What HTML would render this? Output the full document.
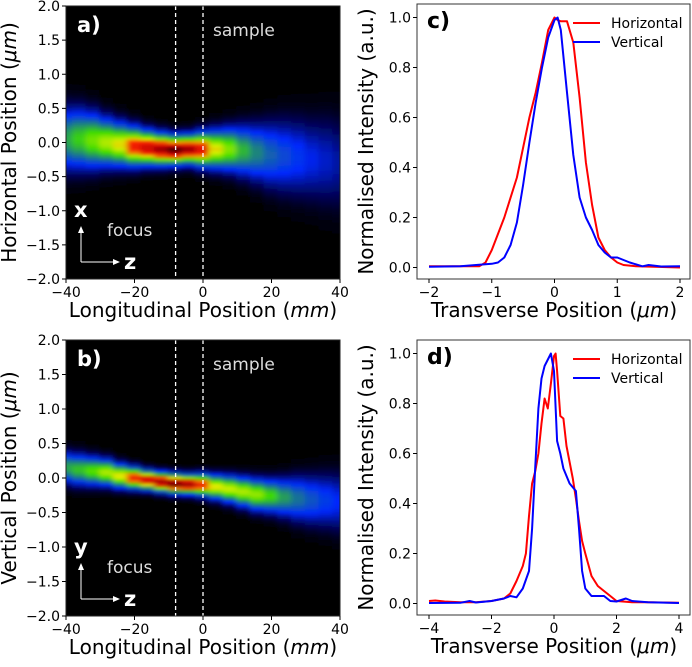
<!DOCTYPE html>
<html><head><meta charset="utf-8"><style>
body{margin:0;background:#fff;width:692px;height:662px;overflow:hidden}
svg text{font-family:"DejaVu Sans","Liberation Sans",sans-serif}
</style></head><body>
<svg id="fig" width="692" height="662" viewBox="0 0 692 662" xmlns="http://www.w3.org/2000/svg">
<defs><filter id="bl" x="-5%" y="-5%" width="110%" height="110%"><feGaussianBlur stdDeviation="3 1"/></filter>
<clipPath id="ca"><rect x="66" y="6" width="274" height="273"/></clipPath>
<clipPath id="cb"><rect x="66" y="340" width="274" height="276"/></clipPath></defs>
</svg>
<script>
// ---- heatmap data (beam profile per z position) ----
const zPos=[-40,-36,-32,-28,-24,-20,-16,-12,-8,-4,0,4,8,12,16,20,24,28,32,36,40];
const aCenter=[0.05,0.05,0.03,0,-0.03,-0.06,-0.08,-0.1,-0.11,-0.1,-0.1,-0.1,-0.1,-0.12,-0.15,-0.18,-0.2,-0.22,-0.25,-0.27,-0.3];
const aSigma=[0.26,0.25,0.23,0.2,0.18,0.16,0.14,0.13,0.12,0.12,0.14,0.16,0.18,0.21,0.24,0.28,0.31,0.33,0.35,0.38,0.4];
const aPeak=[0.33,0.4,0.48,0.55,0.62,0.8,0.9,0.95,1.0,0.95,0.85,0.62,0.5,0.36,0.28,0.22,0.18,0.15,0.12,0.1,0.08];
const bCenter=[0.15,0.12,0.1,0.08,0.03,0,-0.03,-0.06,-0.08,-0.09,-0.1,-0.13,-0.16,-0.2,-0.24,-0.26,-0.28,-0.3,-0.32,-0.33,-0.35];
const bSigma=[0.13,0.13,0.12,0.11,0.1,0.09,0.08,0.08,0.08,0.08,0.09,0.1,0.11,0.12,0.13,0.14,0.16,0.19,0.21,0.23,0.25];
const bPeak=[0.33,0.38,0.45,0.55,0.62,0.8,0.9,0.95,1.0,0.95,0.8,0.62,0.58,0.55,0.52,0.42,0.32,0.25,0.2,0.16,0.13];
const zTicks=[-40,-20,0,20,40];
const posTicks=[2.0,1.5,1.0,0.5,0.0,-0.5,-1.0,-1.5,-2.0];
// ---- line profile data ----
const cHx=[-2,-1.5,-1.2,-1.1,-1.0,-0.8,-0.6,-0.4,-0.3,-0.2,-0.1,0,0.05,0.1,0.2,0.3,0.4,0.5,0.6,0.7,0.8,0.9,1.0,1.1,1.3,2];
const cHy=[0.005,0.005,0.005,0.02,0.07,0.2,0.36,0.6,0.7,0.82,0.95,1.0,0.99,0.985,0.985,0.9,0.68,0.42,0.25,0.12,0.07,0.04,0.02,0.01,0.005,0];
const cVx=[-2,-1.5,-1.0,-0.9,-0.8,-0.7,-0.6,-0.5,-0.4,-0.3,-0.2,-0.1,0,0.05,0.1,0.2,0.3,0.4,0.5,0.6,0.7,0.8,0.9,1.0,1.2,1.4,1.5,1.7,2];
const cVy=[0.003,0.005,0.015,0.02,0.04,0.09,0.18,0.33,0.5,0.66,0.8,0.92,0.99,1.0,0.95,0.7,0.45,0.28,0.2,0.15,0.09,0.06,0.04,0.04,0.02,0.005,0.01,0.004,0.005];
const dHx=[-4,-3.8,-3.5,-3,-2.5,-2,-1.6,-1.4,-1.2,-1.0,-0.9,-0.8,-0.7,-0.6,-0.5,-0.4,-0.3,-0.2,-0.1,0,0.05,0.1,0.2,0.3,0.4,0.6,0.7,0.8,0.9,1.0,1.2,1.4,1.6,1.8,2.0,2.5,3,4];
const dHy=[0.01,0.012,0.008,0.005,0.005,0.01,0.02,0.04,0.09,0.15,0.2,0.35,0.48,0.53,0.6,0.72,0.82,0.78,0.88,0.99,1.0,0.93,0.75,0.74,0.63,0.5,0.42,0.33,0.25,0.2,0.11,0.07,0.05,0.03,0.01,0.005,0.005,0.003];
const dVx=[-4,-3,-2.7,-2.5,-2,-1.6,-1.4,-1.2,-1.0,-0.8,-0.7,-0.6,-0.5,-0.4,-0.3,-0.1,0,0.1,0.2,0.3,0.5,0.7,0.8,0.9,1.0,1.2,1.4,1.6,1.8,2,2.3,2.5,3,4];
const dVy=[0.002,0.003,0.01,0.004,0.01,0.02,0.03,0.025,0.06,0.13,0.3,0.55,0.78,0.9,0.95,1.0,0.93,0.65,0.6,0.54,0.48,0.45,0.3,0.13,0.06,0.03,0.03,0.03,0.01,0.008,0.02,0.01,0.005,0.002];
const cTicks=[-2,-1,0,1,2], dTicks=[-4,-2,0,2,4], iTicks=[0.0,0.2,0.4,0.6,0.8,1.0];

const NS='http://www.w3.org/2000/svg', svg=document.getElementById('fig'), defs=svg.querySelector('defs');
function mk(tag,attrs,parent){const e=document.createElementNS(NS,tag);for(const k in attrs)e.setAttribute(k,attrs[k]);(parent||svg).appendChild(e);return e;}
function txt(s,attrs,parent){const e=mk('text',attrs,parent);e.textContent=s;return e;}
function jet(v){v=Math.max(0,Math.min(1,v));
 const st=[[0,0,0,0],[0.03,0,0,70],[0.13,0,40,255],[0.42,60,220,0],[0.6,220,240,0],[0.74,255,40,0],[0.92,200,0,0],[1,50,0,0]];
 for(let i=1;i<st.length;i++){if(v<=st[i][0]){const a=st[i-1],b=st[i],t=(v-a[0])/(b[0]-a[0]);return `rgb(${Math.round(a[1]+t*(b[1]-a[1]))},${Math.round(a[2]+t*(b[2]-a[2]))},${Math.round(a[3]+t*(b[3]-a[3]))})`;}}return 'rgb(50,0,0)';}

function heat(id,top,bot,cen,sig,pk,clip,letter,axisLetter,ylabel){
 const L=66,R=340;const X=z=>L+(z+40)/80*(R-L);const Y=p=>top+(2-p)/4*(bot-top);
 mk('rect',{x:L,y:top,width:R-L,height:bot-top,fill:'#000'});
 const g=mk('g',{'clip-path':`url(#${clip})`,filter:'url(#bl)'});
 
 
 const dz=zPos[1]-zPos[0];
 zPos.forEach((z,i)=>{
  const gid=id+'g'+i;const lg=mk('linearGradient',{id:gid,gradientUnits:'userSpaceOnUse'},defs);
  lg.setAttribute('x1',0);lg.setAttribute('x2',0);lg.setAttribute('y1',Y(2));lg.setAttribute('y2',Y(-2));
  for(let k=0;k<=80;k++){const p=2-k*0.05;const d=(p-cen[i])/sig[i];mk('stop',{offset:k/80,'stop-color':jet(pk[i]*Math.exp(-d*d/2))},lg);}
  const r=mk('rect',{x:X(z-dz/2)-1,y:top,width:X(z+dz/2)-X(z-dz/2)+2,height:bot-top,fill:`url(#${gid})`},g);
  
  
 });
 [-8,0].forEach(z=>{const l=mk('line',{x1:X(z),x2:X(z),y1:top,y2:bot,stroke:'#fff','stroke-width':1.3,'stroke-dasharray':'4,3'});
  });
 mk('rect',{x:L,y:top,width:R-L,height:bot-top,fill:'none',stroke:'#222','stroke-width':1});
 zTicks.forEach(z=>{mk('line',{x1:X(z),x2:X(z),y1:bot,y2:bot+4,stroke:'#000'});
  const t=txt(z<0?'\u2212'+(-z):String(z),{x:X(z),y:bot+18,'font-size':14,'text-anchor':'middle',fill:'#000'});
  });
 posTicks.forEach(p=>{mk('line',{x1:L-4,x2:L,y1:Y(p),y2:Y(p),stroke:'#000'});
  const s=(p<0?'\u2212':'')+Math.abs(p).toFixed(1);
  const t=txt(s,{x:L-6,y:Y(p)+5,'font-size':14,'text-anchor':'end',fill:'#000'});
  });
 const xl=txt('',{x:(L+R)/2,y:bot+38,'font-size':20,'text-anchor':'middle',fill:'#000'});xl.innerHTML='Longitudinal Position (<tspan font-style="italic">mm</tspan>)';
 
 const yl=txt('',{x:0,y:0,'font-size':20,'text-anchor':'middle',fill:'#000',transform:`translate(16,${(top+bot)/2}) rotate(-90)`});
 yl.innerHTML=ylabel+' Position (<tspan font-style="italic">\u03bcm</tspan>)';
 
 const pl=txt(letter,{x:77,y:top+26,'font-size':21,'font-weight':'bold',fill:'#fff'});
 const sm=txt('sample',{x:213,y:top+30,'font-size':17,fill:'#ddd'});
 const ax=txt(axisLetter,{x:74,y:bot-62,'font-size':21,'font-weight':'bold',fill:'#fff'});
 const fc=txt('focus',{x:107,y:bot-43,'font-size':17,fill:'#ddd'});
 const by=bot-17;
 mk('path',{d:`M81 ${by} V${by-32} M81 ${by} H115`,stroke:'#fff','stroke-width':1,fill:'none'});
 mk('path',{d:`M78 ${by-29} L81 ${by-36} L84 ${by-29} Z M113 ${by-3} L120 ${by} L113 ${by+3} Z`,fill:'#fff'});
 const zz=txt('z',{x:124,y:by+7,'font-size':21,'font-weight':'bold',fill:'#fff'});
}
heat('panel-a',6,279,aCenter,aSigma,aPeak,'ca','a)','x','Horizontal');
heat('panel-b',340,616,bCenter,bSigma,bPeak,'cb','b)','y','Vertical');

function lineplot(id,top,bot,x0,x1,xmin,xmax,ticks,hx,hy,vx,vy,letter){
 const L=417,R=691;const X=v=>x0+(v-xmin)/(xmax-xmin)*(x1-x0);const Y=v=>y0+(v)*(y1-y0);
 const y0=bot-11.5,y1=top+13.5;
 const g=mk('g',{});
 const pts=(xs,ys)=>xs.map((x,i)=>X(x).toFixed(1)+','+Y(ys[i]).toFixed(1)).join(' ');
 const h=mk('polyline',{points:pts(hx,hy),fill:'none',stroke:'#f00','stroke-width':2,'stroke-linejoin':'round'},g);
 
 const v=mk('polyline',{points:pts(vx,vy),fill:'none',stroke:'#00f','stroke-width':2,'stroke-linejoin':'round'},g);
 
 mk('rect',{x:L,y:top,width:R-L-1,height:bot-top,fill:'none',stroke:'#333','stroke-width':1});
 ticks.forEach(t=>{mk('line',{x1:X(t),x2:X(t),y1:bot,y2:bot+4,stroke:'#000'});
  const e=txt(t<0?'\u2212'+(-t):String(t),{x:X(t),y:bot+18,'font-size':14,'text-anchor':'middle',fill:'#000'});
  });
 iTicks.forEach(t=>{mk('line',{x1:L-4,x2:L,y1:Y(t),y2:Y(t),stroke:'#000'});
  const e=txt(t.toFixed(1),{x:L-6,y:Y(t)+5,'font-size':14,'text-anchor':'end',fill:'#000'});
  });
 const xl=txt('',{x:(L+R)/2,y:bot+38,'font-size':20,'text-anchor':'middle',fill:'#000'});xl.innerHTML='Transverse Position (<tspan font-style="italic">\u03bcm</tspan>)';
 
 const yl=txt('Normalised Intensity (a.u.)',{x:0,y:0,'font-size':20,'text-anchor':'middle',fill:'#000',transform:`translate(373,${(top+bot)/2}) rotate(-90)`});
 
 const pl=txt(letter,{x:427,y:top+24,'font-size':22,'font-weight':'bold',fill:'#000'});
 const ly=top+19;
 mk('line',{x1:573,x2:600,y1:ly,y2:ly,stroke:'#f00','stroke-width':2});
 const t1=txt('Horizontal',{x:611,y:ly+5,'font-size':14,fill:'#000'});
 mk('line',{x1:573,x2:600,y1:ly+19,y2:ly+19,stroke:'#00f','stroke-width':2});
 const t2=txt('Vertical',{x:611,y:ly+24,'font-size':14,fill:'#000'});
}
lineplot('panel-c',4,279,429,680,-2,2,cTicks,cHx,cHy,cVx,cVy,'c)');
lineplot('panel-d',340,615,429,679,-4,4,dTicks,dHx,dHy,dVx,dVy,'d)');
</script>
</body></html>
